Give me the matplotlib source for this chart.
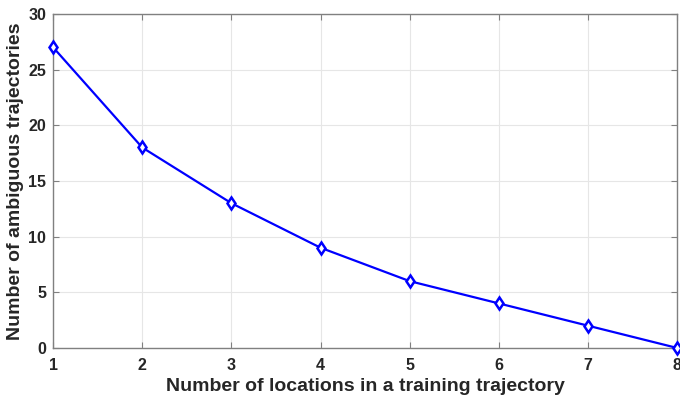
import matplotlib.pyplot as plt

# Ambiguous trajectories vs. number of locations
locations = [1, 2, 3, 4, 5, 6, 7, 8]
ambiguous = [27, 18, 13, 9, 6, 4, 2, 0]
xticks = [1, 2, 3, 4, 5, 6, 7, 8]
yticks = [0, 5, 10, 15, 20, 25, 30]

plt.rcParams['font.family'] = ['Liberation Sans', 'DejaVu Sans']
plt.rcParams['font.weight'] = 'bold'

fig = plt.figure(figsize=(6.8, 3.95), dpi=100)
ax = fig.add_axes([0.078, 0.119, 0.918, 0.846])

ax.plot(locations, ambiguous, color='#0000ff', linewidth=1.6,
        marker='d', markersize=6, markerfacecolor='white',
        markeredgecolor='#0000ff', markeredgewidth=1.8, clip_on=False, zorder=3)

ax.set_xlim(1, 8)
ax.set_ylim(0, 30)
ax.set_xticks(xticks)
ax.set_yticks(yticks)
ax.grid(True, color='#e6e6e6', linewidth=0.8)
ax.set_axisbelow(True)

for s in ax.spines.values():
    s.set_color('#808080')
    s.set_linewidth(1.0)
ax.tick_params(direction='in', length=4, color='#808080', labelsize=11.5,
               labelcolor='#262626', top=True, right=True,
               labeltop=False, labelright=False)
ax.tick_params(axis='x', pad=7)
ax.tick_params(axis='y', pad=5)
for lbl in ax.get_xticklabels() + ax.get_yticklabels():
    lbl.set_fontweight('bold')

ax.set_xlabel('Number of locations in a training trajectory', fontsize=14,
              fontweight='bold', color='#262626', labelpad=4)
ax.set_ylabel('Number of ambiguous trajectories', fontsize=14,
              fontweight='bold', color='#262626', labelpad=3)

fig.savefig('out.png', dpi=100)
